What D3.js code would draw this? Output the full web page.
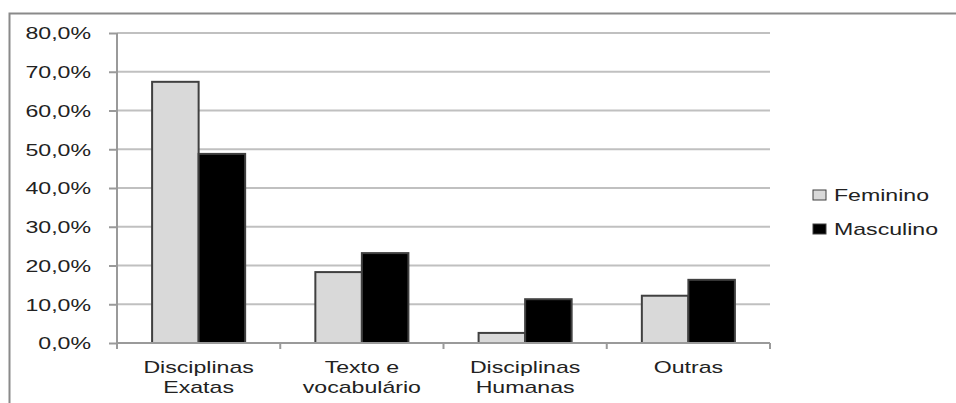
<!DOCTYPE html>
<html><head><meta charset="utf-8">
<script src="https://cdn.jsdelivr.net/npm/d3@7"></script>
<style>body{margin:0;background:#fff}svg{display:block}</style>
</head><body>
<svg id="c" width="956" height="403"></svg>
<script>
const categories = [["Disciplinas","Exatas"],["Texto e","vocabulário"],["Disciplinas","Humanas"],["Outras"]];
const seriesNames = ["Feminino","Masculino"];
const feminino = [0.674, 0.183, 0.026, 0.122];
const masculino = [0.488, 0.232, 0.113, 0.163];
const yTicks = [0,0.1,0.2,0.3,0.4,0.5,0.6,0.7,0.8];
const yTickLabels = ["0,0%","10,0%","20,0%","30,0%","40,0%","50,0%","60,0%","70,0%","80,0%"];
const colors = ["#d9d9d9","#000000"];

(function(){
const SX = 1.36; // horizontal stretch of the reference
const svg = d3.select("#c");
const pLeft = 117, pRight = 770, pTop = 33, pBottom = 343;
const font = "'Liberation Sans', Arial, sans-serif";
const txtColor = "#222";
const fs = "17px";

svg.append("rect").attr("x",9.5).attr("y",13.5).attr("width",1000).attr("height",500)
  .attr("fill","#fff").attr("stroke","#8a8a8a").attr("stroke-width",2);

const y = d3.scaleLinear().domain([0,0.8]).range([pBottom,pTop]);
const x = d3.scaleBand().domain(d3.range(categories.length)).range([pLeft,pRight])
  .paddingInner(0.43).paddingOuter(0.215);
const xs = d3.scaleBand().domain(d3.range(seriesNames.length)).range([0,x.bandwidth()]);

// gridlines
svg.append("g").selectAll("line").data(yTicks.filter(d=>d>0)).join("line")
  .attr("x1",pLeft).attr("x2",pRight).attr("y1",d=>y(d)).attr("y2",d=>y(d))
  .attr("stroke","#c0c0c0").attr("stroke-width",2);

// y axis
const yAxis = svg.append("g").attr("transform",`translate(${pLeft},0)`)
  .call(d3.axisLeft(y).tickValues(yTicks).tickSize(8).tickFormat((d,i)=>yTickLabels[i]));
yAxis.select(".domain").attr("stroke","#9a9a9a").attr("stroke-width",2).attr("d",`M0,${pTop}V${pBottom}`);
yAxis.selectAll(".tick line").attr("stroke","#9a9a9a").attr("stroke-width",2);
yAxis.selectAll(".tick text").attr("x",null).attr("dy","0.35em")
  .attr("transform",`translate(-26,0) scale(${SX},1)`)
  .attr("fill",txtColor).style("font-family",font).style("font-size",fs).attr("text-anchor","end");

// bars
const groups = svg.append("g").selectAll("g").data(categories.map((c,i)=>i)).join("g")
  .attr("transform",i=>`translate(${x(i)},0)`);
groups.selectAll("rect").data(i=>[feminino[i],masculino[i]]).join("rect")
  .attr("x",(d,j)=>xs(j)).attr("width",xs.bandwidth())
  .attr("y",d=>y(d)).attr("height",d=>y(0)-y(d))
  .attr("fill",(d,j)=>colors[j]).attr("stroke","#404040").attr("stroke-width",2);

// x axis
const step = x.step();
const bounds = d3.range(categories.length+1).map(i=>pLeft + i*step);
svg.append("line").attr("x1",pLeft).attr("x2",pRight).attr("y1",pBottom).attr("y2",pBottom)
  .attr("stroke","#9a9a9a").attr("stroke-width",2);
svg.append("g").selectAll("line").data(bounds).join("line")
  .attr("x1",d=>d).attr("x2",d=>d).attr("y1",pBottom).attr("y2",pBottom+6)
  .attr("stroke","#9a9a9a").attr("stroke-width",2);

// category labels
categories.forEach((lines,i)=>{
  const cx = x(i)+x.bandwidth()/2;
  lines.forEach((s,k)=>{
    svg.append("text").attr("transform",`translate(${cx},${373+k*20}) scale(${SX},1)`)
      .attr("text-anchor","middle").attr("fill",txtColor)
      .style("font-family",font).style("font-size",fs).text(s);
  });
});

// legend
const legY = [195,229];
seriesNames.forEach((n,j)=>{
  svg.append("rect").attr("x",813).attr("y",legY[j]-5).attr("width",13).attr("height",10)
    .attr("fill",colors[j]).attr("stroke","#404040").attr("stroke-width",1);
  svg.append("text").attr("transform",`translate(834,${legY[j]}) scale(${SX},1)`)
    .attr("dy","0.35em").attr("fill",txtColor)
    .style("font-family",font).style("font-size",fs).text(n);
});
})();
</script>
</body></html>
